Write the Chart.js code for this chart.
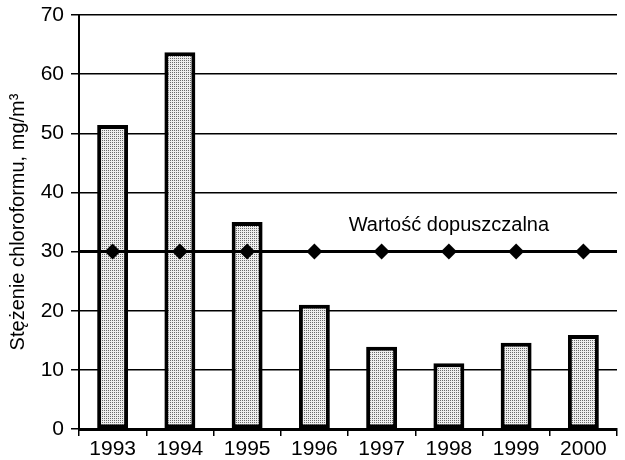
<!DOCTYPE html>
<html lang="pl">
<head>
  <meta charset="UTF-8" />
  <title>Stężenie chloroformu</title>
  <script src="https://cdn.jsdelivr.net/npm/chart.js"></script>
  <style>
    html, body {
      margin: 0;
      padding: 0;
      background: #fff;
      overflow: hidden;
    }
    #wrap {
      width: 625px;
      height: 460px;
    }
  </style>
</head>
<body>
  <div id="wrap"><canvas id="chart"></canvas></div>

  <script>
    const years = ["1993", "1994", "1995", "1996", "1997", "1998", "1999", "2000"];
    const concentration = [51.4, 63.7, 35.0, 21.0, 13.9, 11.1, 14.6, 15.9];
    const limitValues = [30, 30, 30, 30, 30, 30, 30, 30];
    const limitLabel = "Wartość dopuszczalna";
    const yTitle = "Stężenie chloroformu, mg/m³";

    const FONT = "'Liberation Sans', Arial, sans-serif";

    // stippled grey fill like the scanned original
    function stipple() {
      const c = document.createElement("canvas");
      c.width = 2;
      c.height = 2;
      const g = c.getContext("2d");
      g.fillStyle = "#eeeeee";
      g.fillRect(0, 0, 2, 2);
      g.fillStyle = "#6a6a6a";
      g.fillRect(0, 0, 1, 1);
      return g.createPattern(c, "repeat");
    }

    // limit line across the whole plot + its caption
    const limitLine = {
      id: "limitLine",
      afterDatasetsDraw(chart) {
        const { ctx, chartArea, scales } = chart;
        const y = scales.y.getPixelForValue(limitValues[0]);
        ctx.save();
        ctx.strokeStyle = "#000";
        ctx.lineWidth = 3;
        ctx.beginPath();
        ctx.moveTo(chartArea.left, y);
        ctx.lineTo(chartArea.right, y);
        ctx.stroke();

        ctx.fillStyle = "#000";
        ctx.font = "20px " + FONT;
        ctx.textAlign = "center";
        ctx.textBaseline = "alphabetic";
        ctx.fillText(limitLabel, scales.x.getPixelForValue(5), scales.y.getPixelForValue(33.5));
        ctx.restore();
      }
    };

    new Chart(document.getElementById("chart"), {
      data: {
        labels: years,
        datasets: [
          {
            type: "line",
            data: limitValues,
            order: 0,
            showLine: false,
            pointStyle: "rectRot",
            pointRadius: 8,
            pointBackgroundColor: "#000",
            pointBorderColor: "#000",
            pointBorderWidth: 0
          },
          {
            type: "bar",
            data: concentration,
            order: 1,
            backgroundColor: stipple(),
            borderColor: "#000",
            borderWidth: 4,
            borderSkipped: false,
            categoryPercentage: 1,
            barPercentage: 0.46
          }
        ]
      },
      options: {
        responsive: true,
        maintainAspectRatio: false,
        animation: false,
        layout: { padding: { top: 15, right: 0, bottom: 0, left: 0 } },
        plugins: {
          legend: { display: false },
          tooltip: { enabled: false }
        },
        scales: {
          x: {
            type: "category",
            offset: true,
            grid: {
              offset: true,
              drawOnChartArea: false,
              color: "#000",
              lineWidth: 1.5,
              tickLength: 7
            },
            border: { color: "#000", width: 3 },
            ticks: {
              color: "#000",
              font: { family: FONT, size: 21 },
              padding: 1,
              maxRotation: 0
            },
            afterFit(scale) { scale.height = 31; }
          },
          y: {
            min: 0,
            max: 70,
            ticks: {
              stepSize: 10,
              color: "#000",
              font: { family: FONT, size: 21 },
              padding: 7
            },
            grid: {
              color: "#000",
              lineWidth: 1.5,
              tickLength: 8
            },
            border: { color: "#000", width: 2 },
            title: {
              display: true,
              text: yTitle,
              color: "#000",
              font: { family: FONT, size: 20 },
              padding: { top: 6, bottom: 0 }
            },
            afterFit(scale) {
              scale.width = 79;
              scale.paddingTop = 0;
              scale.paddingBottom = 0;
            }
          }
        }
      },
      plugins: [limitLine]
    });
  </script>
</body>
</html>
